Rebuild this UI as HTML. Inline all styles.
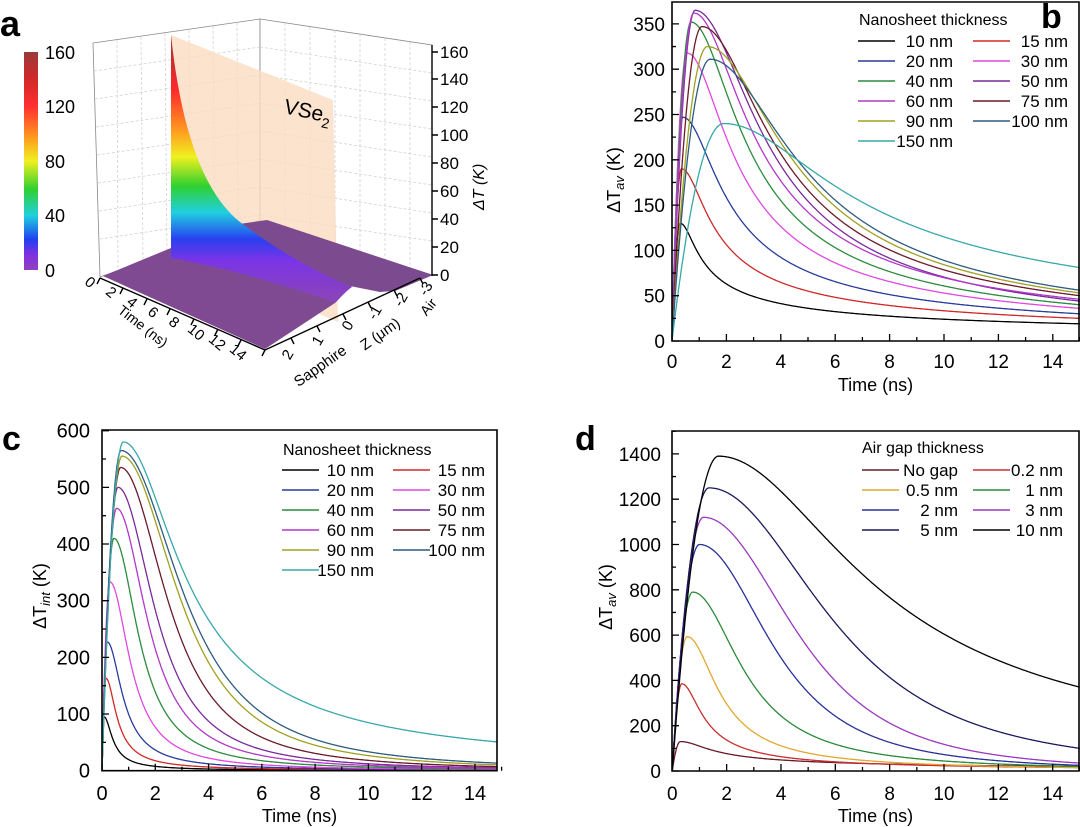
<!DOCTYPE html>
<html><head><meta charset="utf-8">
<style>
html,body{margin:0;padding:0;background:#fff;}
svg{display:block;font-family:"Liberation Sans",Arial,sans-serif;}
</style></head>
<body>
<svg id="s" width="1080" height="827" viewBox="0 0 1080 827" xmlns="http://www.w3.org/2000/svg">
<defs>
<linearGradient id="cb" x1="0" y1="0" x2="0" y2="1">
<stop offset="0" stop-color="#9a3a3a"/><stop offset="0.12" stop-color="#d02828"/>
<stop offset="0.25" stop-color="#ff3030"/><stop offset="0.38" stop-color="#ff9020"/>
<stop offset="0.5" stop-color="#f0f020"/><stop offset="0.63" stop-color="#30d030"/>
<stop offset="0.75" stop-color="#20d0e0"/><stop offset="0.86" stop-color="#2040f0"/>
<stop offset="0.93" stop-color="#8030e0"/><stop offset="1" stop-color="#9040c0"/>
</linearGradient>
<linearGradient id="sf" gradientUnits="userSpaceOnUse" x1="0" y1="35" x2="0" y2="300">
<stop offset="0" stop-color="#a03030"/><stop offset="0.21" stop-color="#ff2a2a"/>
<stop offset="0.36" stop-color="#ff9a20"/><stop offset="0.46" stop-color="#f0f020"/>
<stop offset="0.57" stop-color="#30d030"/><stop offset="0.67" stop-color="#20d0e0"/>
<stop offset="0.77" stop-color="#2a40f0"/><stop offset="0.85" stop-color="#7a34e8"/>
<stop offset="1" stop-color="#8a44b8"/>
</linearGradient>
<clipPath id="cpb"><rect x="672" y="2" width="408" height="339"/></clipPath>
<clipPath id="cpc"><rect x="102" y="430" width="395" height="341"/></clipPath>
<clipPath id="cpd"><rect x="672" y="431" width="408" height="340"/></clipPath>
</defs>
<rect width="1080" height="827" fill="#fff"/>

<!-- Panel a -->
<text x="0" y="36" font-size="36" font-weight="bold">a</text>
<rect x="24" y="52" width="14" height="218" fill="url(#cb)"/>
<g font-size="18">
<text x="45" y="59">160</text><text x="45" y="113">120</text><text x="45" y="168">80</text><text x="45" y="222">40</text><text x="45" y="277">0</text>
</g>
<polygon points="93,43 260,19 260,220 100,277" fill="#fff" stroke="#888" stroke-width="0.8"/>
<polygon points="260,19 432,45 432,275 260,220" fill="#fff" stroke="#888" stroke-width="0.8"/>
<g stroke="#ccc" stroke-width="0.7" stroke-dasharray="3,2" fill="none">
<path d="M94,71 L260,47 M95,99 L260,75 M96,127 L260,103 M97,155 L260,131 M98,183 L260,159 M99,211 L260,187 M100,239 L260,215"/>
<path d="M117,40 L118,269 M141,37 L143,261 M165,33 L167,253 M189,30 L191,245 M213,26 L215,237 M237,23 L238,228"/>
<path d="M260,47 L432,73 M260,75 L432,101 M260,103 L432,129 M260,131 L432,157 M260,159 L432,185 M260,187 L432,213 M260,215 L432,241"/>
<path d="M285,23 L285,228 M310,27 L310,236 M335,30 L335,244 M360,34 L360,252 M385,38 L385,260 M410,42 L410,268"/>
</g>
<polygon points="171,35 333,100 338,322 171,250" fill="#fbdcc0" opacity="0.8"/>
<text x="283" y="113" font-size="21" transform="rotate(12 283 113)">VSe<tspan font-size="14" dy="6">2</tspan></text>
<!-- back strip -->
<polygon points="232,225 267,220 433,275 395,291 380,292 360,288 350,286 300,265" fill="#7c4a8e"/>
<!-- front floor -->
<path d="M103,276 L171,248 L240,226 C280,250 320,270 352,286 C345,292 340,298 335,303 L265,349 Z" fill="#7f4a92"/>
<!-- rainbow surface -->
<path d="M171,35 C180,120 200,190 240,222 C270,245 310,270 352,287 C345,292 340,298 335,303 C300,290 230,268 171,258 Z" fill="url(#sf)"/>
<g stroke="#000" stroke-width="1.4" fill="none">
<path d="M100,278 L265,350 L420,278"/>
<path d="M432,45 L432,276"/>
<path d="M432,275 h6 M432,247 h6 M432,219 h6 M432,191 h6 M432,163 h6 M432,135 h6 M432,107 h6 M432,79 h6 M432,52 h6"/>
<path d="M100,278 l-3,6 M123,288 l-3,6 M147,299 l-3,6 M170,309 l-3,6 M194,319 l-3,6 M218,329 l-3,6 M241,340 l-3,6 M265,350 l-3,6"/>
<path d="M291,338 l3,6 M317,326 l3,6 M343,314 l3,6 M368,302 l3,6 M394,290 l3,6 M420,278 l3,6"/>
</g>
<g font-size="17">
<text x="440" y="281">0</text><text x="440" y="253">20</text><text x="440" y="225">40</text><text x="440" y="197">60</text><text x="440" y="169">80</text><text x="440" y="141">100</text><text x="440" y="113">120</text><text x="440" y="85">140</text><text x="440" y="58">160</text>
</g>
<text x="0" y="0" font-size="16" font-style="italic" transform="translate(484,210) rotate(-90)">ΔT (K)</text>
<g font-size="15" text-anchor="middle">
<text transform="translate(87,286) rotate(40)">0</text>
<text transform="translate(108,296) rotate(40)">2</text>
<text transform="translate(129,306) rotate(40)">4</text>
<text transform="translate(150,316) rotate(40)">6</text>
<text transform="translate(171,326) rotate(40)">8</text>
<text transform="translate(193,336) rotate(40)">10</text>
<text transform="translate(214,346) rotate(40)">12</text>
<text transform="translate(235,356) rotate(40)">14</text>
<text transform="translate(140,330) rotate(38)" font-size="14">Time (ns)</text>
<text transform="translate(292,357) rotate(-60)">2</text>
<text transform="translate(322,343) rotate(-60)">1</text>
<text transform="translate(352,328) rotate(-60)">0</text>
<text transform="translate(379,315) rotate(-60)">-1</text>
<text transform="translate(405,302) rotate(-60)">-2</text>
<text transform="translate(430,291) rotate(-60)">-3</text>
<text transform="translate(323,370) rotate(-35)">Sapphire</text>
<text transform="translate(383,338) rotate(-35)">Z (μm)</text>
<text transform="translate(432,310) rotate(-50)" font-size="14">Air</text>
</g>

<text x="1041" y="28" font-size="34" font-weight="bold">b</text>
<text x="2" y="450" font-size="34" font-weight="bold">c</text>
<text x="575" y="450" font-size="34" font-weight="bold">d</text>

<g id="plots"></g>
</svg>
<script>
(function(){
var root=document.getElementById("plots");
var out="";
function prep(c){
  var A=c[0],tp=c[1],h=c[2],v=c[3],T=15-tp;
  var L=Math.log(A/v)/Math.LN2;
  var lo=Math.log(0.001),hi=Math.log(1000);
  function g(w){return Math.log(1+(T/w)*(T/w))/Math.log(1+(h/w)*(h/w));}
  for(var i=0;i<80;i++){var m=(lo+hi)/2;var w=Math.exp(m);if(g(w)<L)lo=m;else hi=m;}
  var w=Math.exp((lo+hi)/2);
  var p=Math.LN2/Math.log(1+(h/w)*(h/w));
  c.w=w;c.p=p;
}
function curveVal(t,c){
  var A=c[0],tp=c[1];
  if(t<=tp){var u=t/tp;return A*(1-(1-u)*(1-u));}
  var x=(t-tp)/c.w;
  return A*Math.pow(1+x*x,-c.p);
}
function plot(P){
  var X=function(t){return P.x0+t*P.px;};
  var Y=function(v){return P.y0-v*P.py;};
  var s="";
  s+='<g clip-path="url(#'+P.clip+')" fill="none" stroke-width="1.3">';
  P.curves.forEach(function(c){
    prep(c);
    var d="M"+X(0).toFixed(1)+","+Y(0).toFixed(1);
    for(var i=1;i<=750;i++){var t=i*0.02;d+=" L"+X(t).toFixed(1)+","+Y(curveVal(t,c)).toFixed(1);}
    s+='<path d="'+d+'" stroke="'+c[4]+'"/>';
  });
  s+='</g>';
  s+='<path d="M'+P.left+','+P.y0+' L'+P.left+','+P.top+' L'+P.right+','+P.top+' L'+P.right+','+P.y0+' Z" fill="none" stroke="#000" stroke-width="1.6"/>';
  var tk="";
  for(var t=0;t<=15;t+=1){var x=X(t);tk+="M"+x+","+P.y0+" v"+(t%2==0?-7:-4)+" ";}
  for(var v=0;v*P.py<=P.y0-P.top+0.5;v+=P.ystep/2){var y=Y(v);var maj=(Math.round(v/(P.ystep/2))%2==0);tk+="M"+P.left+","+y+" h"+(maj?7:4)+" ";}
  s+='<path d="'+tk+'" stroke="#000" stroke-width="1.3"/>';
  s+='<g font-size="'+P.fs+'" text-anchor="middle">';
  for(var t=0;t<=14;t+=2){s+='<text x="'+X(t)+'" y="'+P.xl+'">'+t+'</text>';}
  s+='</g><g font-size="'+P.fs+'" text-anchor="end">';
  for(var v=0;v<=P.ymax;v+=P.ystep){s+='<text x="'+P.yl+'" y="'+(Y(v)+7)+'">'+v+'</text>';}
  s+='</g>';
  s+='<text x="'+((P.left+P.right)/2)+'" y="'+P.xt+'" font-size="18" text-anchor="middle">Time (ns)</text>';
  s+='<text transform="translate('+P.ytx+','+P.yty+') rotate(-90)" font-size="18" text-anchor="middle">ΔT<tspan font-size="13" font-style="italic" dy="4">'+P.sub+'</tspan><tspan dy="-4"> (K)</tspan></text>';
  var L=P.leg;
  s+='<text x="'+L.tx+'" y="'+L.ty+'" font-size="16">'+L.title+'</text>';
  P.curves.forEach(function(c,i){
    var col=i%2, row=Math.floor(i/2);
    var y=L.r0+row*20;
    var lx=col?L.l2:L.l1, ex=col?L.e2:L.e1;
    s+='<line x1="'+lx+'" x2="'+(lx+37)+'" y1="'+y+'" y2="'+y+'" stroke="'+c[4]+'" stroke-width="1.5"/>';
    s+='<text x="'+ex+'" y="'+(y+6)+'" font-size="17" text-anchor="end">'+c[5]+'</text>';
  });
  out+=s;
}
var cb=["#000000","#d02828","#283c9c","#e048e0","#2a8c3c","#7a2a9a","#b038c8","#6a1a28","#a0a020","#2c5c80","#38a8a8"];
plot({x0:672,px:27.2,y0:341,py:0.906,top:2,left:672,right:1079,clip:"cpb",ystep:50,ymax:350,fs:19,xl:368,yl:665,xt:391,ytx:620,yty:180,sub:"av",
 leg:{title:"Nanosheet thickness",tx:859,ty:25,r0:41,l1:858,e1:953,l2:973,e2:1068},
 curves:[[130,.3,1.6,19,cb[0],"10 nm"],[190,.35,2.0,25,cb[1],"15 nm"],[247,.4,2.4,30,cb[2],"20 nm"],[318,.55,2.55,36,cb[3],"30 nm"],
 [352,.7,2.8,40,cb[4],"40 nm"],[365,.85,3.4,44,cb[5],"50 nm"],[362,.8,3.1,46,cb[6],"60 nm"],[347,1.1,3.7,50,cb[7],"75 nm"],
 [325,1.3,4.2,53,cb[8],"90 nm"],[311,1.4,4.6,56,cb[9],"100 nm"],[240,1.9,7.6,81,cb[10],"150 nm"]]});
plot({x0:102,px:26.64,y0:770.7,py:0.5667,top:430,left:102,right:497,clip:"cpc",ystep:100,ymax:600,fs:20,xl:800,yl:90,xt:822,ytx:46,yty:596,sub:"int",
 leg:{title:"Nanosheet thickness",tx:283,ty:455,r0:470,l1:282,e1:374,l2:393,e2:485},
 curves:[[95,.08,.4,.5,cb[0],"10 nm"],[163,.15,.5,1,cb[1],"15 nm"],[227,.2,.7,1.5,cb[2],"20 nm"],[333,.3,.9,2,cb[3],"30 nm"],
 [410,.45,1.1,3,cb[4],"40 nm"],[500,.6,1.6,5,cb[5],"50 nm"],[463,.55,1.35,4,cb[6],"60 nm"],[535,.7,2.0,7,cb[7],"75 nm"],
 [555,.75,2.4,10,cb[8],"90 nm"],[565,.72,2.6,13,cb[9],"100 nm"],[580,.8,2.9,50,cb[10],"150 nm"]]});
plot({x0:672.3,px:27.17,y0:771,py:0.2265,top:431,left:672,right:1079,clip:"cpd",ystep:200,ymax:1400,fs:19,xl:800,yl:661,xt:822,ytx:612,yty:597,sub:"av",
 leg:{title:"Air gap thickness",tx:862,ty:453,r0:470,l1:862,e1:958,l2:973,e2:1063},
 curves:[[130,.3,2.3,20,"#6a1a28","No gap"],[385,.35,1.1,15,"#c83030","0.2 nm"],[593,.55,1.45,15,"#e0a830","0.5 nm"],[790,.75,2.15,20,"#2a8a3a","1 nm"],
 [1000,1.0,3.0,25,"#28309a","2 nm"],[1120,1.15,3.75,35,"#9a38c0","3 nm"],[1250,1.35,4.85,100,"#1a1a5a","5 nm"],[1390,1.7,7.1,370,"#000000","10 nm"]]});
root.innerHTML=out;
})();
</script>
</body></html>
